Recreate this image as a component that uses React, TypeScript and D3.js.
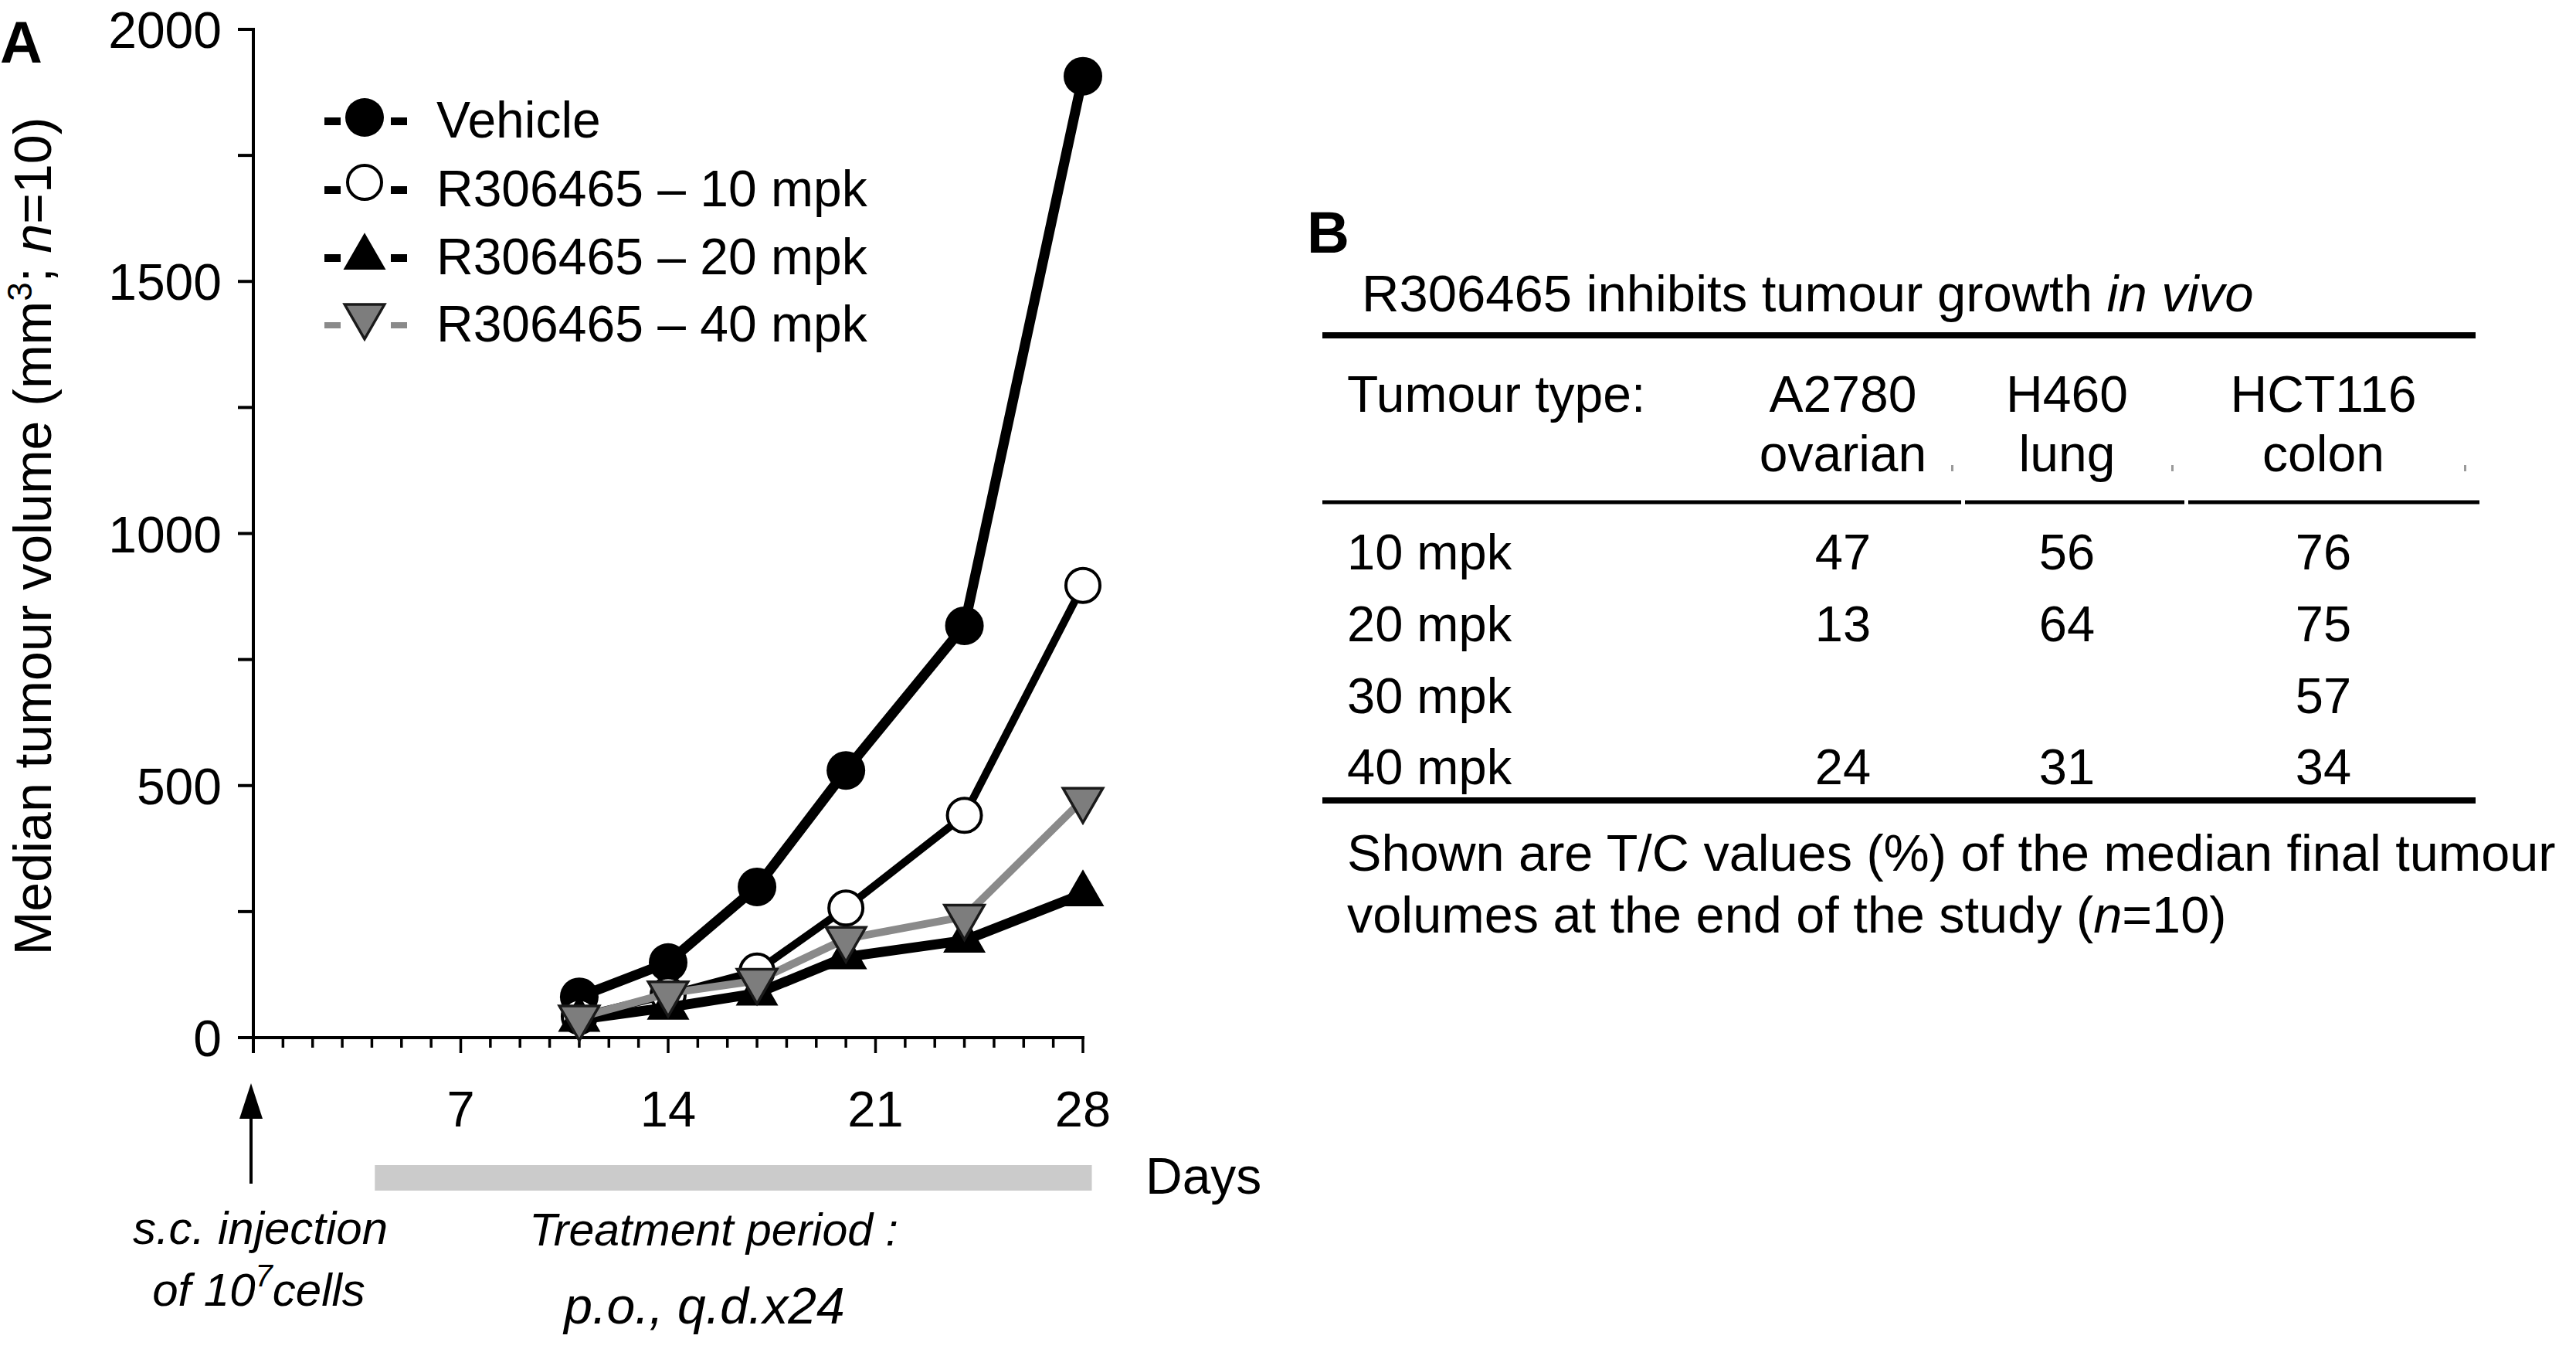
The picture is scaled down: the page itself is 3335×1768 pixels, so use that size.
import React from "react";
import * as d3 from "d3";

// ---------- data (panel A) ----------
const days = [11, 14, 17, 20, 24, 28];
const vehicle = [81, 149, 299, 530, 817, 1907];
const mpk10 = [42, 85, 132, 257, 441, 897];
const mpk20 = [36, 60, 88, 160, 193, 285];
const mpk40 = [40, 88, 113, 196, 240, 472];
const seriesNames = ["Vehicle", "R306465 – 10 mpk", "R306465 – 20 mpk", "R306465 – 40 mpk"];
const yTicks = [0, 500, 1000, 1500, 2000];
const xTickLabels = [7, 14, 21, 28];
const treatmentStart = 4.1;
const treatmentEnd = 28.3;

// ---------- data (panel B) ----------
const tumourTypes = ["A2780", "H460", "HCT116"];
const tissues = ["ovarian", "lung", "colon"];
const doses = ["10 mpk", "20 mpk", "30 mpk", "40 mpk"];
const tcA2780 = [47, 13, null, 24];
const tcH460 = [56, 64, null, 31];
const tcHCT116 = [76, 75, 57, 34];

const FONT = "'Liberation Sans', Arial, Helvetica, sans-serif";

type Marker = "circle" | "open" | "up" | "down";
const styles: { marker: Marker; lw: number; line: string; dash: number }[] = [
  { marker: "circle", lw: 13, line: "#000", dash: 10 },
  { marker: "open", lw: 10, line: "#000", dash: 10 },
  { marker: "up", lw: 13, line: "#000", dash: 10 },
  { marker: "down", lw: 10, line: "#8a8a8a", dash: 8 },
];

const triPath = d3.symbol(d3.symbolTriangle, 1150)() as string;

function MarkerShape({ type, cx, cy }: { type: Marker; cx: number; cy: number }) {
  if (type === "circle") return <circle cx={cx} cy={cy} r={25} fill="#000" />;
  if (type === "open") return <circle cx={cx} cy={cy} r={22} fill="#fff" stroke="#000" strokeWidth={4} />;
  if (type === "up") return <path d={triPath} transform={`translate(${cx},${cy})`} fill="#000" stroke="#000" strokeWidth={2} />;
  return <path d={triPath} transform={`translate(${cx},${cy}) rotate(180)`} fill="#7d7d7d" stroke="#1a1a1a" strokeWidth={3.5} strokeLinejoin="miter" />;
}

export default function App() {
  const x = d3.scaleLinear().domain([0, 28]).range([328, 1402]);
  const y = d3.scaleLinear().domain([0, 2000]).range([1343, 38]);
  const allSeries = [vehicle, mpk10, mpk20, mpk40];
  const line = d3
    .line<number>()
    .x((_, i) => x(days[i]))
    .y((v) => y(v));

  const minorY = d3.range(0, 2001, 250);
  const dayTicks = d3.range(0, 29, 1);

  const legendBaselines = [178, 267, 355, 442];
  const legendSymOffset: Record<Marker, number> = { circle: -26, open: -31, up: -22, down: -33 };

  const colX = [2386, 2676, 3008];
  const rowBase = [737, 830, 923, 1015];
  const tcCols = [tcA2780, tcH460, tcHCT116];

  return (
    <svg
      width={3335}
      height={1768}
      style={{ position: "absolute", left: 0, top: 0, background: "#fff" }}
      fontFamily={FONT}
    >
      <rect x={0} y={0} width={3335} height={1768} fill="#fff" />
      <text x={0} y={81} fontSize={76} fontWeight="bold">A</text>

      {/* Y axis */}
      <line x1={x(0)} x2={x(0)} y1={y(2000) - 2} y2={1363} stroke="#000" strokeWidth={4} />
      {minorY.map((v) => (
        <line key={v} x1={308} x2={x(0)} y1={y(v)} y2={y(v)} stroke="#000" strokeWidth={4} />
      ))}
      {yTicks.map((v) => (
        <text key={v} x={287} y={y(v) + 24} fontSize={66} textAnchor="end">{v}</text>
      ))}
      <text transform={`translate(66,694) rotate(-90)`} fontSize={68} textAnchor="middle">
        Median tumour volume (mm<tspan fontSize={44} dy={-25}>3</tspan>
        <tspan dy={25}>; </tspan>
        <tspan fontStyle="italic">n</tspan>=10)
      </text>

      {/* X axis */}
      <line x1={308} x2={x(28) + 2} y1={1343} y2={1343} stroke="#000" strokeWidth={4} />
      {dayTicks.map((d) => (
        <line
          key={d}
          x1={x(d)}
          x2={x(d)}
          y1={1343}
          y2={d % 7 === 0 ? 1363 : 1356}
          stroke="#000"
          strokeWidth={3.5}
        />
      ))}
      {xTickLabels.map((d) => (
        <text key={d} x={x(d)} y={1458} fontSize={65} textAnchor="middle">{d}</text>
      ))}
      <text x={1483} y={1545} fontSize={66}>Days</text>

      <rect x={x(treatmentStart)} y={1508} width={x(treatmentEnd) - x(treatmentStart)} height={33} fill="#cbcbcb" />

      {/* injection arrow */}
      <line x1={x(0) - 3} x2={x(0) - 3} y1={1440} y2={1532} stroke="#000" strokeWidth={4} />
      <path d={`M${x(0) - 3},1402 L${x(0) - 18},1448 L${x(0) + 12},1448 Z`} fill="#000" />

      {/* annotations */}
      <text x={337} y={1610} fontSize={60} fontStyle="italic" textAnchor="middle">s.c. injection</text>
      <text x={335} y={1690} fontSize={60} fontStyle="italic" textAnchor="middle">
        of 10<tspan fontSize={40} dy={-25}>7</tspan>
        <tspan dy={25}>cells</tspan>
      </text>
      <text x={924} y={1612} fontSize={59} fontStyle="italic" textAnchor="middle">Treatment period :</text>
      <text x={912} y={1713} fontSize={66} fontStyle="italic" textAnchor="middle">p.o., q.d.x24</text>

      {/* series */}
      {allSeries.map((vals, si) => (
        <g key={si}>
          <path d={line(vals) as string} fill="none" stroke={styles[si].line} strokeWidth={styles[si].lw} strokeLinejoin="round" />
          {vals.map((v, i) => (
            <MarkerShape key={i} type={styles[si].marker} cx={x(days[i])} cy={y(v)} />
          ))}
        </g>
      ))}

      {/* legend */}
      {seriesNames.map((name, i) => {
        const b = legendBaselines[i];
        const st = styles[i];
        const dy = b - 21;
        return (
          <g key={name}>
            <line x1={420} x2={441} y1={dy} y2={dy} stroke={st.line} strokeWidth={st.dash} />
            <line x1={506} x2={527} y1={dy} y2={dy} stroke={st.line} strokeWidth={st.dash} />
            <MarkerShape type={st.marker} cx={472} cy={b + legendSymOffset[st.marker]} />
            <text x={565} y={b} fontSize={66}>{name}</text>
          </g>
        );
      })}

      {/* Panel B */}
      <text x={1692} y={327} fontSize={76} fontWeight="bold">B</text>
      <text x={1763} y={403} fontSize={67}>
        R306465 inhibits tumour growth <tspan fontStyle="italic">in vivo</tspan>
      </text>
      <line x1={1712} x2={3205} y1={434} y2={434} stroke="#000" strokeWidth={8} />
      <text x={1744} y={533} fontSize={66}>Tumour type:</text>
      {tumourTypes.map((t, i) => (
        <g key={t}>
          <text x={colX[i]} y={533} fontSize={66} textAnchor="middle">{t}</text>
          <text x={colX[i]} y={610} fontSize={66} textAnchor="middle">{tissues[i]}</text>
        </g>
      ))}
      {[2526, 2811, 3190].map((mx) => (
        <rect key={mx} x={mx} y={602} width={3} height={8} fill="#9a9a9a" />
      ))}
      <line x1={1712} x2={2539} y1={650} y2={650} stroke="#000" strokeWidth={5} />
      <line x1={2544} x2={2828} y1={650} y2={650} stroke="#000" strokeWidth={5} />
      <line x1={2833} x2={3210} y1={650} y2={650} stroke="#000" strokeWidth={5} />
      {doses.map((d, r) => (
        <g key={d}>
          <text x={1744} y={rowBase[r]} fontSize={65}>{d}</text>
          {tcCols.map((col, c) =>
            col[r] == null ? null : (
              <text key={c} x={colX[c]} y={rowBase[r]} fontSize={65} textAnchor="middle">{col[r]}</text>
            )
          )}
        </g>
      ))}
      <line x1={1712} x2={3205} y1={1036} y2={1036} stroke="#000" strokeWidth={8} />
      <text x={1744} y={1127} fontSize={66.6}>
        Shown are T/C values (%) of the median final tumour
      </text>
      <text x={1744} y={1207} fontSize={66.6}>
        volumes at the end of the study (<tspan fontStyle="italic">n</tspan>=10)
      </text>
    </svg>
  );
}
